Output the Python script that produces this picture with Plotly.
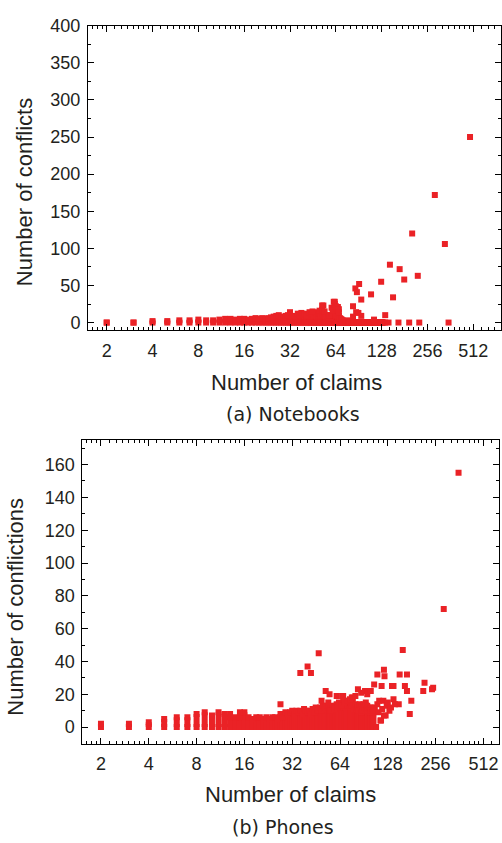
import plotly.graph_objects as go

RED = "#ea2226"

# ---------------- (a) Notebooks ----------------
# dense columns: number of claims -> highest number of conflicts in the column (column spans 0..hi)
nb_col_x = [2, 3, 4, 5, 6, 7, 8, 9, 10, 11,
            12, 13, 14, 15, 16, 17, 18, 19, 20, 21,
            22, 23, 24, 25, 26, 27, 28, 29, 30, 31,
            32, 33, 34, 35, 36, 37, 38, 39, 40, 41,
            42, 43, 44, 45, 46, 47, 48, 49, 50, 51,
            52, 53, 54, 55, 56, 57, 58, 59, 60, 61,
            62, 63, 64, 65, 66, 67, 68, 69, 70, 71,
            72, 73, 74, 75, 76, 77, 78, 79, 80, 81,
            82, 83, 84, 85, 86, 87, 88, 89, 90, 91,
            92, 93, 94, 95, 96, 97, 98, 99, 100, 101,
            102, 103, 104, 105, 106, 107, 108, 109, 110, 111,
            112, 113, 114, 115, 116, 117, 118, 119, 120, 121,
            122, 123, 124, 125, 126, 127, 128, 129, 130]
nb_col_hi = [0, 0, 2, 2, 3, 3, 4, 3, 3, 4,
             5, 5, 4, 5, 5, 4, 5, 6, 5, 6,
             5, 6, 7, 8, 9, 10, 8, 7, 9, 10,
             14, 8, 9, 8, 12, 10, 13, 11, 12, 10,
             9, 14, 11, 12, 9, 14, 8, 10, 12, 9,
             11, 10, 9, 8, 10, 9, 7, 6, 8, 9,
             10, 12, 9, 10, 8, 9, 6, 5, 4, 3,
             0, 2, 0, 0, 3, 0, 0, 0, 2, 0,
             0, 0, 0, 0, 0, 0, 0, 0, 0, 0,
             0, 0, 0, 0, 0, 0, 0, 0, 0, 0,
             0, 0, 0, 0, 0, 0, 0, 0, 0, 0,
             0, 0, 0, 0, 0, 0, 0, 0, 0, 0,
             0, 0, 0, 0, 0, 0, 0, 0, 0]
# isolated points
nb_pt_x = [487, 286, 203, 333, 145, 168, 221, 180, 127, 91, 86, 88, 109, 94, 152,
           83, 87, 90, 94, 83, 135, 114, 135, 142, 165, 194, 226, 352,
           45, 50, 52, 52, 53, 54, 58, 60, 61, 62, 63, 63, 64, 65, 66, 66, 67, 67]
nb_pt_y = [250, 172, 120, 106, 78, 72, 63, 58, 55, 52, 46, 41, 38, 31, 34,
           22, 14, 13, 9, 8, 10, 4, 0, 0, 0, 0, 0, 0,
           15, 16, 23, 17, 23, 15, 10, 20, 16, 28, 28, 25, 22, 19, 21, 17, 18, 14]

# ---------------- (b) Phones ----------------
ph_col_x = [2, 3, 4, 5, 6, 7, 8, 9, 10, 11,
            12, 13, 14, 15, 16, 17, 18, 19, 20, 21,
            22, 23, 24, 25, 26, 27, 28, 29, 30, 31,
            32, 33, 34, 35, 36, 37, 38, 39, 40, 41,
            42, 43, 44, 45, 46, 47, 48, 49, 50, 51,
            52, 53, 54, 55, 56, 57, 58, 59, 60, 61,
            62, 63, 64, 65, 66, 67, 68, 69, 70, 71,
            72, 73, 74, 75, 76, 77, 78, 79, 80, 81,
            82, 83, 84, 85, 86, 87, 88, 89, 90, 91,
            92, 93, 94, 95, 96, 97, 98, 99, 100, 101,
            102, 103, 104]
ph_col_hi = [2, 2, 3, 5, 6, 6, 8, 9, 7, 9,
             8, 6, 6, 6, 9, 6, 5, 6, 6, 5,
             6, 5, 6, 6, 5, 8, 6, 9, 8, 9,
             10, 8, 10, 9, 10, 8, 11, 10, 9, 10,
             8, 11, 9, 12, 10, 11, 12, 10, 13, 11,
             12, 13, 12, 10, 12, 13, 11, 12, 13, 14,
             12, 15, 13, 14, 12, 16, 14, 12, 15, 13,
             16, 14, 12, 15, 13, 15, 11, 12, 14, 11,
             13, 12, 10, 14, 11, 9, 13, 10, 14, 12,
             10, 15, 11, 13, 10, 12, 11, 9, 12, 10,
             11, 9, 10]
ph_pt_x = [357, 288, 159, 47, 40, 36, 42, 121, 122, 110, 152, 169, 218, 214, 247, 243,
           164, 169, 136, 139, 117, 105, 92, 83, 180, 176, 150, 139, 142, 115, 121,
           66, 61, 67, 76, 52, 55, 49, 54, 27, 15, 13,
           56, 59, 62, 65, 68, 71, 74, 77, 80, 87, 95, 100,
           106, 108, 110, 112, 113, 116, 118, 120, 124, 126, 128, 131, 134]
ph_pt_y = [155, 72, 47, 45, 37, 33, 33, 35, 31, 32, 32, 32, 27, 22, 24, 23,
           25, 22, 25, 25, 25, 26, 22, 23, 16, 8, 14, 17, 14, 4, 7,
           19, 19, 19, 18, 22, 20, 16, 15, 14, 9, 8,
           10, 11, 12, 13, 15, 16, 17, 18, 19, 21, 20, 22,
           12, 0, 14, 9, 16, 4, 11, 16, 7, 13, 15, 10, 12]

x_tick_vals = [2, 4, 8, 16, 32, 64, 128, 256, 512]
x_tick_text = ["2", "4", "8", "16", "32", "64", "128", "256", "512"]
nb_y_ticks = [0, 50, 100, 150, 200, 250, 300, 350, 400]
ph_y_ticks = [0, 20, 40, 60, 80, 100, 120, 140, 160]

# minor ticks on the base-2 log axis: linear subdivisions between powers of two
x_minor = []
for k in range(0, 10):
    base = 2 ** k
    for i in range(1, 8):
        x_minor.append(base * (1 + i / 8))

fig = go.Figure()
MSIZE = 6


def add_panel(col_x, col_hi, pt_x, pt_y, xa, ya):
    fig.add_trace(go.Scatter(
        x=col_x, y=[0] * len(col_x), mode="markers",
        marker=dict(symbol="square", size=MSIZE, color=RED, line=dict(width=0)),
        error_y=dict(type="data", symmetric=False, array=col_hi,
                     arrayminus=[0] * len(col_x), color=RED, thickness=MSIZE, width=0),
        xaxis=xa, yaxis=ya, showlegend=False, hoverinfo="skip"))
    fig.add_trace(go.Scatter(
        x=col_x, y=col_hi, mode="markers",
        marker=dict(symbol="square", size=MSIZE, color=RED, line=dict(width=0)),
        xaxis=xa, yaxis=ya, showlegend=False, hoverinfo="skip"))
    fig.add_trace(go.Scatter(
        x=pt_x, y=pt_y, mode="markers",
        marker=dict(symbol="square", size=MSIZE, color=RED, line=dict(width=0)),
        xaxis=xa, yaxis=ya, showlegend=False, hoverinfo="skip"))


add_panel(nb_col_x, nb_col_hi, nb_pt_x, nb_pt_y, "x", "y")
add_panel(ph_col_x, ph_col_hi, ph_pt_x, ph_pt_y, "x2", "y2")

W, H = 502, 843
tick_font = dict(family="Liberation Sans, Arial, sans-serif", size=18, color="#231f20")

common_x = dict(type="log", tickmode="array", tickvals=x_tick_vals, ticktext=x_tick_text,
                ticks="inside", ticklen=6, tickwidth=1, tickcolor="black",
                showline=True, linecolor="black", linewidth=1, mirror="allticks",
                showgrid=False, zeroline=False, tickfont=tick_font, ticklabelstandoff=4,
                ticklabeloverflow="allow",
                minor=dict(tickmode="array", tickvals=x_minor, ticks="inside",
                           ticklen=3, tickwidth=1, tickcolor="black", showgrid=False))
common_y = dict(ticks="inside", ticklen=6, tickwidth=1, tickcolor="black",
                showline=True, linecolor="black", linewidth=1, mirror="allticks",
                showgrid=False, zeroline=False, tickfont=tick_font, ticklabelstandoff=3,
                ticklabeloverflow="allow")

fig.update_layout(
    width=W, height=H, margin=dict(l=0, r=0, t=0, b=0),
    paper_bgcolor="white", plot_bgcolor="white",
    xaxis=dict(common_x, domain=[88 / W, 501 / W], range=[0.1782, 2.891], anchor="y"),
    yaxis=dict(common_y, domain=[1 - 325 / H, 1 - 16 / H], range=[-10, 400], anchor="x",
               tickmode="array", tickvals=nb_y_ticks,
               minor=dict(dtick=25, tick0=0, ticks="inside", ticklen=3, tickcolor="black")),
    xaxis2=dict(common_x, domain=[82.3 / W, 499 / W], range=[0.1834, 2.8074], anchor="y2"),
    yaxis2=dict(common_y, domain=[1 - 745 / H, 1 - 436.7 / H], range=[-10, 175], anchor="x2",
                tickmode="array", tickvals=ph_y_ticks,
                minor=dict(dtick=10, tick0=0, ticks="inside", ticklen=3, tickcolor="black")),
)

title_font = dict(family="Liberation Sans, Arial, sans-serif", size=22, color="#231f20")
cap_font = dict(family="DejaVu Sans, Verdana, sans-serif", size=19, color="#231f20")


def ann(text, px, py, font, angle=0):
    fig.add_annotation(text=text, x=px / W, y=1 - py / H, xref="paper", yref="paper",
                       xanchor="center", yanchor="middle", showarrow=False,
                       font=font, textangle=angle)


ann("Number of conflicts", 24, 185, title_font, -90)
ann("Number of claims", 296, 378, title_font)
ann("(a) Notebooks", 292.5, 410, cap_font)
ann("Number of conflictions", 16, 606, title_font, -90)
ann("Number of claims", 290, 797, title_font)
ann("(b) Phones", 283.3, 830, cap_font)

fig.write_html("out.html")
